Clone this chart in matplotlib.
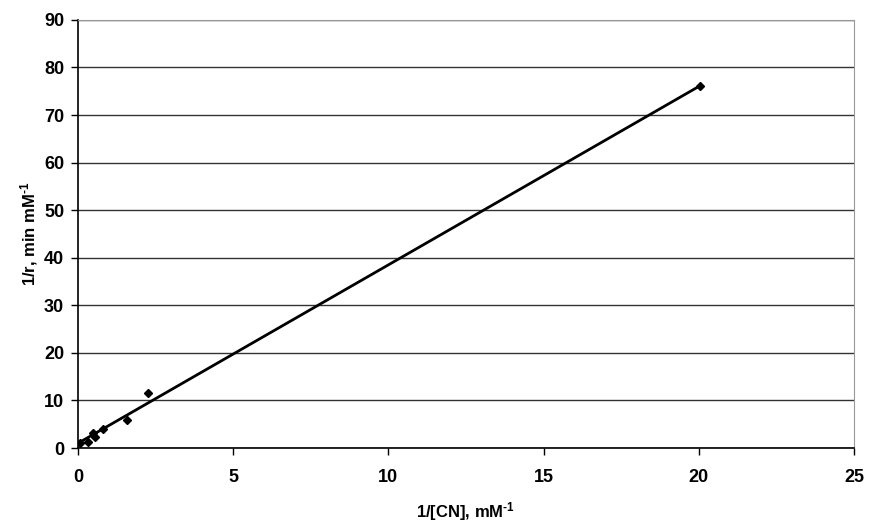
import numpy as np
import matplotlib.pyplot as plt

plt.rcParams['font.family'] = ['Liberation Sans', 'DejaVu Sans']
plt.rcParams['mathtext.fontset'] = 'custom'
plt.rcParams['mathtext.rm'] = 'Liberation Sans:bold'
plt.rcParams['mathtext.bf'] = 'Liberation Sans:bold'
plt.rcParams['mathtext.default'] = 'bf'

# Lineweaver-Burk data: 1/[CN] vs 1/r
inv_cn = [0.06, 0.33, 0.49, 0.55, 0.82, 1.57, 2.25, 20.05]
inv_r = [1.0, 1.3, 3.1, 2.4, 3.9, 5.9, 11.6, 76.2]

# linear trendline
slope = 3.75
intercept = 1.0

fig = plt.figure(figsize=(8.72, 5.24), dpi=100)
ax = fig.add_axes([0.0894, 0.145, 0.8899, 0.817])

xf = np.array([0, max(inv_cn)])
ax.plot(xf, slope * xf + intercept, color='black', lw=2)
ax.plot(inv_cn, inv_r, linestyle='none', marker='D', ms=4, color='black')

ax.set_xlim(0, 25)
ax.set_ylim(0, 90)
ax.set_xticks(range(0, 26, 5))
ax.set_yticks(range(0, 91, 10))
ax.yaxis.grid(True, color='#333333', lw=1)
ax.set_axisbelow(True)

for s in ['top', 'right']:
    ax.spines[s].set_color('#999999')
for s in ['left', 'bottom']:
    ax.spines[s].set_color('black')
    ax.spines[s].set_linewidth(1.2)

ax.tick_params(axis='both', labelsize=13, direction='out', length=5, width=1)
ax.tick_params(axis='x', pad=10)
ax.tick_params(axis='y', pad=5)
for lab in ax.get_xticklabels() + ax.get_yticklabels():
    lab.set_fontweight('bold')

ax.set_xlabel(r'1/[CN], mM$^{\text{-1}}$', fontsize=12, fontweight='bold', labelpad=10)
ax.set_ylabel(r'1/r, min mM$^{\text{-1}}$', fontsize=12, fontweight='bold', labelpad=3)

fig.savefig('out.png', dpi=100)
